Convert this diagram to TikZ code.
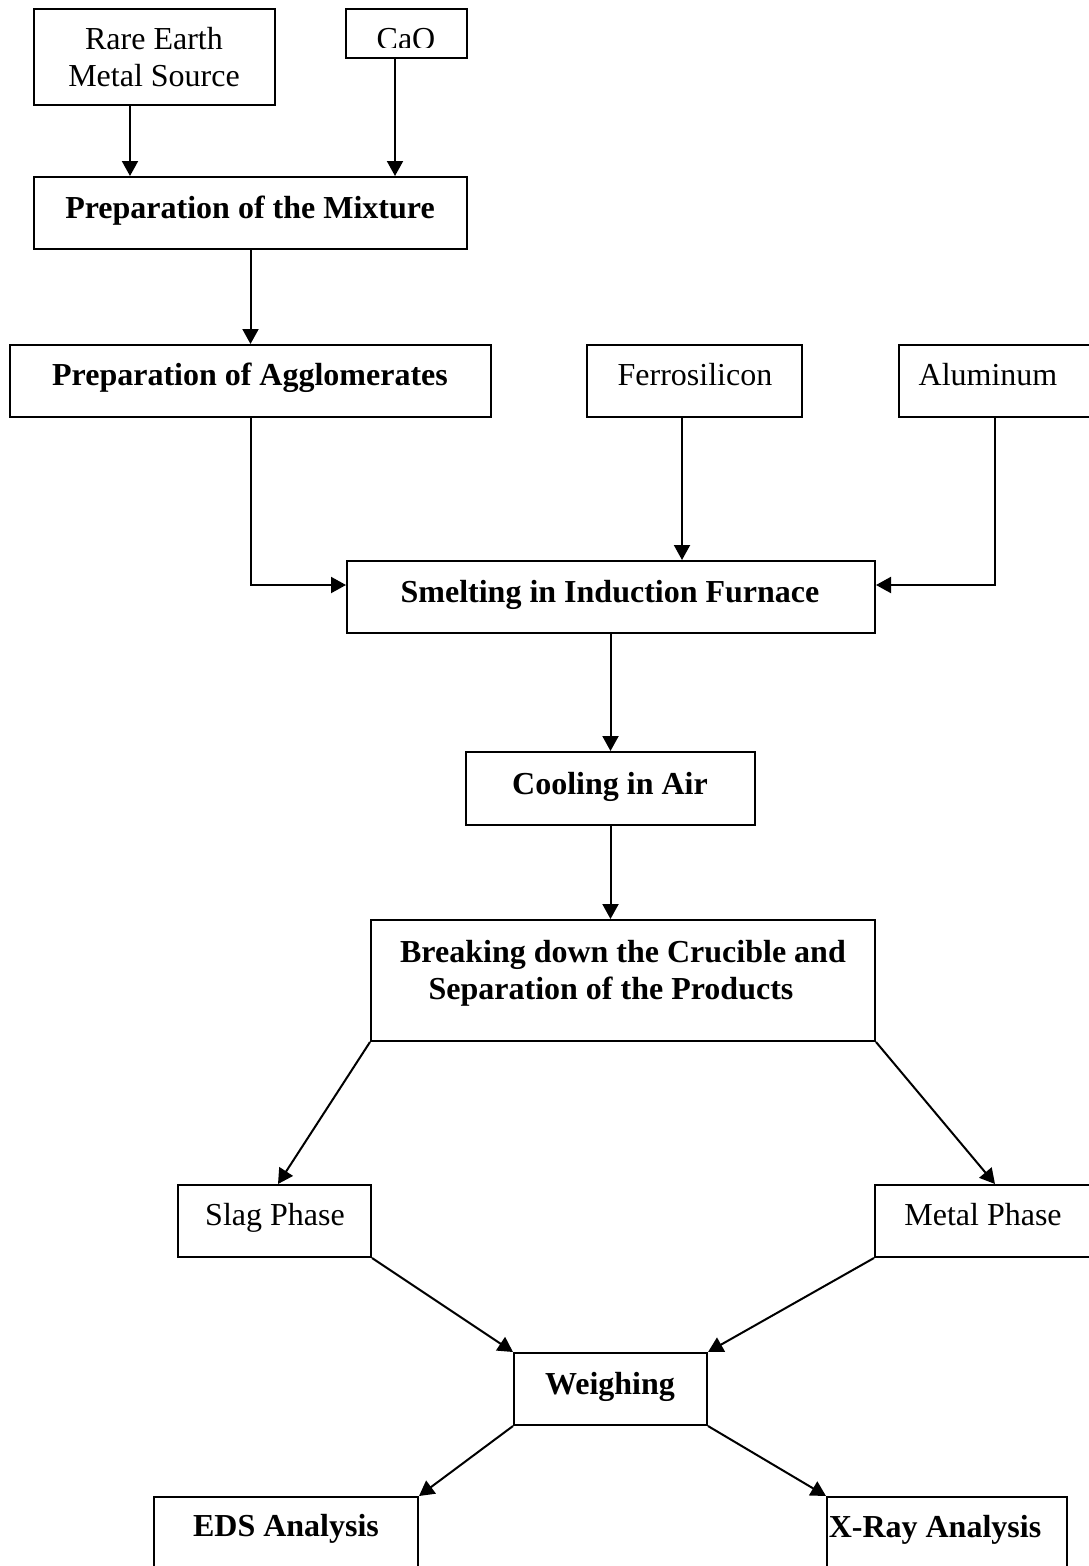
\documentclass[tikz,border=0pt]{standalone}
\usepackage{fontspec}
\setmainfont{Liberation Serif}
\usetikzlibrary{arrows.meta,calc}
\begin{document}
\begin{tikzpicture}[x=1pt,y=-1pt,
  box/.style={draw,line width=2pt,rectangle,inner sep=0pt,fill=none},
  lbl/.style={anchor=base,inner sep=0pt,font=\fontsize{32}{37}\selectfont},
  blbl/.style={lbl,font=\fontsize{32}{37}\selectfont\bfseries},
  arr/.style={line width=2pt,-{Triangle[length=15pt,width=16pt]}},
  ln/.style={line width=2pt}]
\useasboundingbox (0,0) rectangle (1088,1566);
% boxes
\node[box,minimum width=241pt,minimum height=96pt] (re) at (154.5,57) {};
\node[box,minimum width=121pt,minimum height=49pt] (cao) at (406.5,33.5) {};
\node[box,minimum width=433pt,minimum height=72pt] (mix) at (250.5,213) {};
\node[box,minimum width=481pt,minimum height=72pt] (agg) at (250.5,381) {};
\node[box,minimum width=215pt,minimum height=72pt] (fer) at (694.5,381) {};
\node[box,minimum width=200pt,minimum height=72pt] (alu) at (999,381) {};
\node[box,minimum width=528pt,minimum height=72pt] (sme) at (611,597) {};
\node[box,minimum width=289pt,minimum height=73pt] (coo) at (610.5,788.5) {};
\node[box,minimum width=504pt,minimum height=121pt] (brk) at (623,980.5) {};
\node[box,minimum width=193pt,minimum height=72pt] (slag) at (274.5,1221) {};
\node[box,minimum width=224pt,minimum height=72pt] (met) at (987,1221) {};
\node[box,minimum width=193pt,minimum height=72pt] (wei) at (610.5,1389) {};
\node[box,minimum width=264pt,minimum height=78pt] (eds) at (286,1536) {};
\node[box,minimum width=240pt,minimum height=78pt] (xry) at (947,1536) {};
% texts
\node[lbl] (t-re1) at (154,49) {Rare Earth};
\node[lbl] (t-re2) at (154,86) {Metal Source};
\begin{scope}
\clip (347,10) rectangle (466,47.5);
\node[lbl] (t-cao) at (406,49) {CaO};
\end{scope}
\node[blbl] (t-mix) at (250,218) {Preparation of the Mixture};
\node[blbl] (t-agg) at (250,385) {Preparation of Agglomerates};
\node[lbl] (t-fer) at (695,385) {Ferrosilicon};
\node[lbl] (t-alu) at (988,385) {Aluminum};
\node[blbl] (t-sme) at (610,602) {Smelting in Induction Furnace};
\node[blbl] (t-coo) at (610,794) {Cooling in Air};
\node[blbl] (t-brk1) at (623,962) {Breaking down the Crucible and};
\node[blbl] (t-brk2) at (611,999) {Separation of the Products};
\node[lbl] (t-slag) at (275,1225) {Slag Phase};
\node[lbl] (t-met) at (983,1225) {Metal Phase};
\node[blbl] (t-wei) at (610,1394) {Weighing};
\node[blbl] (t-eds) at (286,1536) {EDS Analysis};
\node[blbl] (t-xry) at (935,1537) {X-Ray Analysis};
% connectors
\draw[arr] ([xshift=-24.5pt]re.south) -- ([xshift=-24.5pt]re.south |- mix.north);
\draw[arr] ([xshift=-11.5pt]cao.south) -- ([xshift=-11.5pt]cao.south |- mix.north);
\draw[arr] (mix.south) -- (agg.north);
\draw[arr] (agg.south) |- ([yshift=12pt]sme.west);
\draw[arr] ([xshift=-12.5pt]fer.south) -- ([xshift=-12.5pt]fer.south |- sme.north);
\draw[arr] ([xshift=-4pt]alu.south) |- ([yshift=12pt]sme.east);
\draw[arr] (coo.north |- sme.south) -- (coo.north);
\draw[arr] (coo.south) -- (coo.south |- brk.north);
\draw[arr] (brk.south west) -- ([xshift=3.5pt]slag.north);
\draw[arr] (brk.south east) -- ([xshift=8pt]met.north);
\draw[arr] (slag.south east) -- (wei.north west);
\draw[arr] (met.south west) -- (wei.north east);
\draw[arr] (wei.south west) -- (eds.north east);
\draw[arr] (wei.south east) -- (xry.north west);
\end{tikzpicture}
\end{document}
